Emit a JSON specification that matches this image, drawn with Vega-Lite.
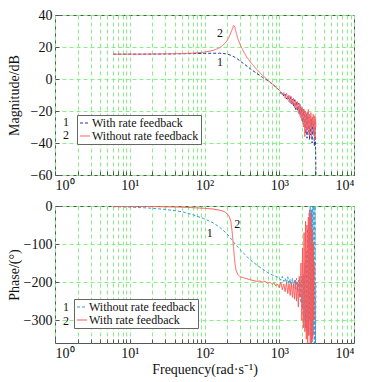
{
  "$schema": "https://vega.github.io/schema/vega-lite/v6.json",
  "padding": {"top": 7, "left": 6, "right": 0, "bottom": 0},
  "spacing": 5,
  "config": {
    "font": "Liberation Serif, Times New Roman, serif",
    "view": {"stroke": "#555555", "strokeWidth": 1},
    "axis": {
      "labelFont": "Liberation Serif, Times New Roman, serif", "titleFont": "Liberation Serif, Times New Roman, serif",
      "labelFontSize": 14, "titleFontSize": 14, "labelColor": "#111", "titleColor": "#111", "labelOverlap": false,
      "titleFontWeight": "normal", "domain": false, "gridColor": "#88ee88", "gridDash": [4, 3],
      "gridWidth": 1, "gridOpacity": 1, "tickColor": "#555", "tickSize": -4, "labelPadding": 7
    },
    "legend": {"labelFont": "Liberation Serif, Times New Roman, serif", "labelFontSize": 12, "labelColor": "#111"}
  },
  "datasets": {
    "mag": [
      {"series": "With rate feedback", "f": 6, "v": 15.5}, {"series": "With rate feedback", "f": 8, "v": 15.5}, {"series": "With rate feedback", "f": 10, "v": 15.5}, {"series": "With rate feedback", "f": 15, "v": 15.5}, {"series": "With rate feedback", "f": 20, "v": 15.6}, {"series": "With rate feedback", "f": 30, "v": 15.6}, {"series": "With rate feedback", "f": 50, "v": 15.8}, {"series": "With rate feedback", "f": 70, "v": 15.9}, {"series": "With rate feedback", "f": 100, "v": 16.0}, {"series": "With rate feedback", "f": 130, "v": 16.1}, {"series": "With rate feedback", "f": 160, "v": 16.1}, {"series": "With rate feedback", "f": 190, "v": 15.8}, {"series": "With rate feedback", "f": 220, "v": 15.0}, {"series": "With rate feedback", "f": 250, "v": 13.8}, {"series": "With rate feedback", "f": 280, "v": 12.3}, {"series": "With rate feedback", "f": 320, "v": 10.2}, {"series": "With rate feedback", "f": 370, "v": 8}, {"series": "With rate feedback", "f": 420, "v": 6}, {"series": "With rate feedback", "f": 500, "v": 3.5}, {"series": "With rate feedback", "f": 600, "v": 1.0}, {"series": "With rate feedback", "f": 700, "v": -1}, {"series": "With rate feedback", "f": 800, "v": -3}, {"series": "With rate feedback", "f": 900, "v": -5}, {"series": "With rate feedback", "f": 1000, "v": -7}, {"series": "With rate feedback", "f": 1050, "v": -9}, {"series": "With rate feedback", "f": 1100, "v": -8}, {"series": "With rate feedback", "f": 1150, "v": -11}, {"series": "With rate feedback", "f": 1200, "v": -9.5}, {"series": "With rate feedback", "f": 1250, "v": -12.5}, {"series": "With rate feedback", "f": 1300, "v": -10.5}, {"series": "With rate feedback", "f": 1350, "v": -14}, {"series": "With rate feedback", "f": 1400, "v": -11}, {"series": "With rate feedback", "f": 1450, "v": -15.5}, {"series": "With rate feedback", "f": 1500, "v": -12.5}, {"series": "With rate feedback", "f": 1550, "v": -17}, {"series": "With rate feedback", "f": 1600, "v": -13}, {"series": "With rate feedback", "f": 1650, "v": -19}, {"series": "With rate feedback", "f": 1700, "v": -14}, {"series": "With rate feedback", "f": 1750, "v": -20}, {"series": "With rate feedback", "f": 1800, "v": -15}, {"series": "With rate feedback", "f": 1850, "v": -22}, {"series": "With rate feedback", "f": 1900, "v": -16}, {"series": "With rate feedback", "f": 1950, "v": -24}, {"series": "With rate feedback", "f": 2000, "v": -18}, {"series": "With rate feedback", "f": 2050, "v": -27}, {"series": "With rate feedback", "f": 2100, "v": -19}, {"series": "With rate feedback", "f": 2150, "v": -30}, {"series": "With rate feedback", "f": 2200, "v": -20}, {"series": "With rate feedback", "f": 2250, "v": -34}, {"series": "With rate feedback", "f": 2300, "v": -22}, {"series": "With rate feedback", "f": 2350, "v": -37}, {"series": "With rate feedback", "f": 2400, "v": -21}, {"series": "With rate feedback", "f": 2450, "v": -33}, {"series": "With rate feedback", "f": 2500, "v": -24}, {"series": "With rate feedback", "f": 2550, "v": -38}, {"series": "With rate feedback", "f": 2600, "v": -23}, {"series": "With rate feedback", "f": 2650, "v": -35}, {"series": "With rate feedback", "f": 2700, "v": -25}, {"series": "With rate feedback", "f": 2750, "v": -40}, {"series": "With rate feedback", "f": 2800, "v": -24}, {"series": "With rate feedback", "f": 2850, "v": -34}, {"series": "With rate feedback", "f": 2900, "v": -27}, {"series": "With rate feedback", "f": 2950, "v": -42}, {"series": "With rate feedback", "f": 3000, "v": -26}, {"series": "With rate feedback", "f": 3050, "v": -36}, {"series": "With rate feedback", "f": 3100, "v": -60},
      {"series": "Without rate feedback", "f": 6, "v": 15.5}, {"series": "Without rate feedback", "f": 10, "v": 15.5}, {"series": "Without rate feedback", "f": 20, "v": 15.6}, {"series": "Without rate feedback", "f": 30, "v": 15.7}, {"series": "Without rate feedback", "f": 50, "v": 15.9}, {"series": "Without rate feedback", "f": 70, "v": 16.2}, {"series": "Without rate feedback", "f": 100, "v": 16.8}, {"series": "Without rate feedback", "f": 130, "v": 17.8}, {"series": "Without rate feedback", "f": 160, "v": 19.5}, {"series": "Without rate feedback", "f": 190, "v": 22.5}, {"series": "Without rate feedback", "f": 210, "v": 25.5}, {"series": "Without rate feedback", "f": 230, "v": 30}, {"series": "Without rate feedback", "f": 245, "v": 33.5}, {"series": "Without rate feedback", "f": 255, "v": 32.5}, {"series": "Without rate feedback", "f": 265, "v": 29}, {"series": "Without rate feedback", "f": 280, "v": 25}, {"series": "Without rate feedback", "f": 300, "v": 21.5}, {"series": "Without rate feedback", "f": 330, "v": 17.5}, {"series": "Without rate feedback", "f": 370, "v": 13.5}, {"series": "Without rate feedback", "f": 420, "v": 10}, {"series": "Without rate feedback", "f": 500, "v": 6}, {"series": "Without rate feedback", "f": 600, "v": 2.2}, {"series": "Without rate feedback", "f": 700, "v": -0.5}, {"series": "Without rate feedback", "f": 800, "v": -3}, {"series": "Without rate feedback", "f": 900, "v": -5}, {"series": "Without rate feedback", "f": 1000, "v": -7}, {"series": "Without rate feedback", "f": 1050, "v": -8}, {"series": "Without rate feedback", "f": 1100, "v": -10}, {"series": "Without rate feedback", "f": 1150, "v": -8.5}, {"series": "Without rate feedback", "f": 1200, "v": -12}, {"series": "Without rate feedback", "f": 1250, "v": -9}, {"series": "Without rate feedback", "f": 1300, "v": -13}, {"series": "Without rate feedback", "f": 1350, "v": -10}, {"series": "Without rate feedback", "f": 1400, "v": -15}, {"series": "Without rate feedback", "f": 1450, "v": -11}, {"series": "Without rate feedback", "f": 1500, "v": -16}, {"series": "Without rate feedback", "f": 1550, "v": -12}, {"series": "Without rate feedback", "f": 1600, "v": -18}, {"series": "Without rate feedback", "f": 1650, "v": -13}, {"series": "Without rate feedback", "f": 1700, "v": -19}, {"series": "Without rate feedback", "f": 1750, "v": -14}, {"series": "Without rate feedback", "f": 1800, "v": -21}, {"series": "Without rate feedback", "f": 1850, "v": -15}, {"series": "Without rate feedback", "f": 1900, "v": -23}, {"series": "Without rate feedback", "f": 1950, "v": -17}, {"series": "Without rate feedback", "f": 2000, "v": -26}, {"series": "Without rate feedback", "f": 2050, "v": -18}, {"series": "Without rate feedback", "f": 2100, "v": -30}, {"series": "Without rate feedback", "f": 2150, "v": -19}, {"series": "Without rate feedback", "f": 2200, "v": -36}, {"series": "Without rate feedback", "f": 2250, "v": -20}, {"series": "Without rate feedback", "f": 2300, "v": -33}, {"series": "Without rate feedback", "f": 2350, "v": -21}, {"series": "Without rate feedback", "f": 2400, "v": -31}, {"series": "Without rate feedback", "f": 2450, "v": -19}, {"series": "Without rate feedback", "f": 2500, "v": -35}, {"series": "Without rate feedback", "f": 2550, "v": -22}, {"series": "Without rate feedback", "f": 2600, "v": -30}, {"series": "Without rate feedback", "f": 2650, "v": -21}, {"series": "Without rate feedback", "f": 2700, "v": -36}, {"series": "Without rate feedback", "f": 2750, "v": -24}, {"series": "Without rate feedback", "f": 2800, "v": -30}, {"series": "Without rate feedback", "f": 2850, "v": -22}, {"series": "Without rate feedback", "f": 2900, "v": -34}, {"series": "Without rate feedback", "f": 2950, "v": -23}, {"series": "Without rate feedback", "f": 3000, "v": -38}, {"series": "Without rate feedback", "f": 3050, "v": -24}, {"series": "Without rate feedback", "f": 3100, "v": -30}
    ],
    "phase": [
      {"series": "Without rate feedback", "f": 6, "v": -2}, {"series": "Without rate feedback", "f": 10, "v": -3}, {"series": "Without rate feedback", "f": 15, "v": -4.5}, {"series": "Without rate feedback", "f": 20, "v": -6}, {"series": "Without rate feedback", "f": 30, "v": -9}, {"series": "Without rate feedback", "f": 50, "v": -15}, {"series": "Without rate feedback", "f": 70, "v": -23}, {"series": "Without rate feedback", "f": 100, "v": -34}, {"series": "Without rate feedback", "f": 130, "v": -44}, {"series": "Without rate feedback", "f": 160, "v": -56}, {"series": "Without rate feedback", "f": 200, "v": -73}, {"series": "Without rate feedback", "f": 230, "v": -88}, {"series": "Without rate feedback", "f": 260, "v": -101}, {"series": "Without rate feedback", "f": 300, "v": -115}, {"series": "Without rate feedback", "f": 350, "v": -128}, {"series": "Without rate feedback", "f": 400, "v": -140}, {"series": "Without rate feedback", "f": 500, "v": -155}, {"series": "Without rate feedback", "f": 600, "v": -166}, {"series": "Without rate feedback", "f": 700, "v": -175}, {"series": "Without rate feedback", "f": 800, "v": -181}, {"series": "Without rate feedback", "f": 900, "v": -185}, {"series": "Without rate feedback", "f": 1000, "v": -188}, {"series": "Without rate feedback", "f": 1050, "v": -195}, {"series": "Without rate feedback", "f": 1100, "v": -185}, {"series": "Without rate feedback", "f": 1150, "v": -198}, {"series": "Without rate feedback", "f": 1200, "v": -190}, {"series": "Without rate feedback", "f": 1250, "v": -202}, {"series": "Without rate feedback", "f": 1300, "v": -186}, {"series": "Without rate feedback", "f": 1350, "v": -205}, {"series": "Without rate feedback", "f": 1400, "v": -192}, {"series": "Without rate feedback", "f": 1450, "v": -210}, {"series": "Without rate feedback", "f": 1500, "v": -190}, {"series": "Without rate feedback", "f": 1550, "v": -215}, {"series": "Without rate feedback", "f": 1600, "v": -195}, {"series": "Without rate feedback", "f": 1650, "v": -220}, {"series": "Without rate feedback", "f": 1700, "v": -190}, {"series": "Without rate feedback", "f": 1750, "v": -225}, {"series": "Without rate feedback", "f": 1800, "v": -195}, {"series": "Without rate feedback", "f": 1850, "v": -240}, {"series": "Without rate feedback", "f": 1900, "v": -200}, {"series": "Without rate feedback", "f": 1950, "v": -255}, {"series": "Without rate feedback", "f": 2000, "v": -185}, {"series": "Without rate feedback", "f": 2050, "v": -270}, {"series": "Without rate feedback", "f": 2100, "v": -180}, {"series": "Without rate feedback", "f": 2150, "v": -300}, {"series": "Without rate feedback", "f": 2200, "v": -150}, {"series": "Without rate feedback", "f": 2250, "v": -320}, {"series": "Without rate feedback", "f": 2300, "v": -120}, {"series": "Without rate feedback", "f": 2350, "v": -330}, {"series": "Without rate feedback", "f": 2400, "v": -60}, {"series": "Without rate feedback", "f": 2450, "v": -340}, {"series": "Without rate feedback", "f": 2500, "v": -20}, {"series": "Without rate feedback", "f": 2550, "v": -300}, {"series": "Without rate feedback", "f": 2600, "v": 0}, {"series": "Without rate feedback", "f": 2650, "v": -350}, {"series": "Without rate feedback", "f": 2700, "v": -10}, {"series": "Without rate feedback", "f": 2750, "v": -360}, {"series": "Without rate feedback", "f": 2800, "v": 0}, {"series": "Without rate feedback", "f": 2850, "v": -340}, {"series": "Without rate feedback", "f": 2900, "v": 0}, {"series": "Without rate feedback", "f": 2950, "v": -360}, {"series": "Without rate feedback", "f": 3000, "v": 0}, {"series": "Without rate feedback", "f": 3050, "v": -360}, {"series": "Without rate feedback", "f": 3100, "v": -200},
      {"series": "With rate feedback", "f": 6, "v": -1}, {"series": "With rate feedback", "f": 10, "v": -1}, {"series": "With rate feedback", "f": 20, "v": -1.5}, {"series": "With rate feedback", "f": 50, "v": -3}, {"series": "With rate feedback", "f": 100, "v": -6}, {"series": "With rate feedback", "f": 130, "v": -8}, {"series": "With rate feedback", "f": 160, "v": -11}, {"series": "With rate feedback", "f": 185, "v": -15}, {"series": "With rate feedback", "f": 200, "v": -20}, {"series": "With rate feedback", "f": 215, "v": -28}, {"series": "With rate feedback", "f": 225, "v": -40}, {"series": "With rate feedback", "f": 235, "v": -70}, {"series": "With rate feedback", "f": 245, "v": -110}, {"series": "With rate feedback", "f": 255, "v": -150}, {"series": "With rate feedback", "f": 265, "v": -170}, {"series": "With rate feedback", "f": 280, "v": -180}, {"series": "With rate feedback", "f": 300, "v": -186}, {"series": "With rate feedback", "f": 350, "v": -190}, {"series": "With rate feedback", "f": 400, "v": -193}, {"series": "With rate feedback", "f": 450, "v": -196}, {"series": "With rate feedback", "f": 500, "v": -198}, {"series": "With rate feedback", "f": 550, "v": -197}, {"series": "With rate feedback", "f": 600, "v": -200}, {"series": "With rate feedback", "f": 650, "v": -198}, {"series": "With rate feedback", "f": 700, "v": -203}, {"series": "With rate feedback", "f": 750, "v": -200}, {"series": "With rate feedback", "f": 800, "v": -206}, {"series": "With rate feedback", "f": 850, "v": -202}, {"series": "With rate feedback", "f": 900, "v": -210}, {"series": "With rate feedback", "f": 950, "v": -205}, {"series": "With rate feedback", "f": 1000, "v": -215}, {"series": "With rate feedback", "f": 1050, "v": -200}, {"series": "With rate feedback", "f": 1100, "v": -220}, {"series": "With rate feedback", "f": 1150, "v": -205}, {"series": "With rate feedback", "f": 1200, "v": -225}, {"series": "With rate feedback", "f": 1250, "v": -200}, {"series": "With rate feedback", "f": 1300, "v": -230}, {"series": "With rate feedback", "f": 1350, "v": -205}, {"series": "With rate feedback", "f": 1400, "v": -235}, {"series": "With rate feedback", "f": 1450, "v": -200}, {"series": "With rate feedback", "f": 1500, "v": -240}, {"series": "With rate feedback", "f": 1550, "v": -205}, {"series": "With rate feedback", "f": 1600, "v": -245}, {"series": "With rate feedback", "f": 1650, "v": -195}, {"series": "With rate feedback", "f": 1700, "v": -250}, {"series": "With rate feedback", "f": 1750, "v": -200}, {"series": "With rate feedback", "f": 1800, "v": -265}, {"series": "With rate feedback", "f": 1850, "v": -185}, {"series": "With rate feedback", "f": 1900, "v": -240}, {"series": "With rate feedback", "f": 1950, "v": -150}, {"series": "With rate feedback", "f": 2000, "v": -300}, {"series": "With rate feedback", "f": 2050, "v": -110}, {"series": "With rate feedback", "f": 2100, "v": -320}, {"series": "With rate feedback", "f": 2150, "v": -70}, {"series": "With rate feedback", "f": 2200, "v": -330}, {"series": "With rate feedback", "f": 2250, "v": -40}, {"series": "With rate feedback", "f": 2300, "v": -350}, {"series": "With rate feedback", "f": 2350, "v": -50}, {"series": "With rate feedback", "f": 2400, "v": -360}, {"series": "With rate feedback", "f": 2450, "v": -30}, {"series": "With rate feedback", "f": 2500, "v": -340}, {"series": "With rate feedback", "f": 2550, "v": -10}, {"series": "With rate feedback", "f": 2600, "v": -360}, {"series": "With rate feedback", "f": 2650, "v": -20}, {"series": "With rate feedback", "f": 2700, "v": -360}, {"series": "With rate feedback", "f": 2750, "v": -60}, {"series": "With rate feedback", "f": 2800, "v": -350}, {"series": "With rate feedback", "f": 2850, "v": -100}, {"series": "With rate feedback", "f": 2900, "v": -300}, {"series": "With rate feedback", "f": 2950, "v": -150}
    ],
    "magLabels": [
      {"f": 161, "v": 28.7, "label": "2"}, {"f": 161, "v": 10.6, "label": "1"},
      {"f": 1.4, "v": -26.8, "label": "1"}, {"f": 1.4, "v": -35, "label": "2"}
    ],
    "phaseLabels": [
      {"f": 118, "v": -71, "label": "1"}, {"f": 274, "v": -48, "label": "2"},
      {"f": 1.4, "v": -266, "label": "1"}, {"f": 1.4, "v": -301, "label": "2"}
    ]
  },
  "vconcat": [
    {
      "width": 299, "height": 160,
      "layer": [
        {
          "data": {"name": "mag"},
          "mark": {"type": "line", "strokeWidth": 1, "clip": true},
          "encoding": {
            "x": {"field": "f", "type": "quantitative", "scale": {"type": "log", "domain": [1, 10000]},
              "axis": {"title": null, "grid": true, "labelOverlap": false, "tickCount": 50, "values": [1,2,3,4,5,6,7,8,9,10,20,30,40,50,60,70,80,90,100,200,300,400,500,600,700,800,900,1000,2000,3000,4000,5000,6000,7000,8000,9000,10000],
                "labelExpr": "datum.value == 1 ? '10⁰' : datum.value == 10 ? '10¹' : datum.value == 100 ? '10²' : datum.value == 1000 ? '10³' : datum.value == 10000 ? '10⁴' : ''"}},
            "y": {"field": "v", "type": "quantitative", "scale": {"domain": [-60, 40], "nice": false},
              "axis": {"title": "Magnitude/dB", "labelOverlap": false, "tickCount": 10, "values": [-60,-40,-20,0,20,40], "minExtent": 30, "maxExtent": 30, "titlePadding": 4}},
            "color": {"field": "series", "type": "nominal",
              "scale": {"domain": ["With rate feedback", "Without rate feedback"], "range": ["#2a35a8", "#ff6666"]},
              "legend": {"title": null, "orient": "none", "legendX": 22, "legendY": 100, "symbolType": "stroke", "symbolSize": 100, "symbolStrokeWidth": 1.2, "strokeColor": "#666", "padding": 2, "rowPadding": 1, "labelOffset": 1, "fillColor": "white"}},
            "strokeDash": {"field": "series", "type": "nominal",
              "scale": {"domain": ["With rate feedback", "Without rate feedback"], "range": [[3, 2], [1, 0]]},
              "legend": {"title": null, "orient": "none", "legendX": 22, "legendY": 100, "symbolType": "stroke", "symbolSize": 100, "symbolStrokeWidth": 1.2, "strokeColor": "#666", "padding": 2, "rowPadding": 1, "labelOffset": 1, "fillColor": "white"}}
          }
        },
        {
          "data": {"name": "magLabels"},
          "mark": {"type": "text", "fontSize": 12, "font": "Liberation Serif, Times New Roman, serif", "color": "#111"},
          "encoding": {
            "x": {"field": "f", "type": "quantitative"},
            "y": {"field": "v", "type": "quantitative"},
            "text": {"field": "label"}
          }
        }
      ]
    },
    {
      "width": 299, "height": 137,
      "layer": [
        {
          "data": {"name": "phase"},
          "mark": {"type": "line", "strokeWidth": 1, "clip": true},
          "encoding": {
            "x": {"field": "f", "type": "quantitative", "scale": {"type": "log", "domain": [1, 10000]},
              "axis": {"title": "Frequency(rad·s⁻¹)", "grid": true, "labelOverlap": false, "tickCount": 50, "values": [1,2,3,4,5,6,7,8,9,10,20,30,40,50,60,70,80,90,100,200,300,400,500,600,700,800,900,1000,2000,3000,4000,5000,6000,7000,8000,9000,10000],
                "labelExpr": "datum.value == 1 ? '10⁰' : datum.value == 10 ? '10¹' : datum.value == 100 ? '10²' : datum.value == 1000 ? '10³' : datum.value == 10000 ? '10⁴' : ''", "titlePadding": 2}},
            "y": {"field": "v", "type": "quantitative", "scale": {"domain": [-360, 0], "nice": false},
              "axis": {"title": "Phase/(°)", "labelOverlap": false, "tickCount": 10, "values": [-300,-200,-100,0], "minExtent": 30, "maxExtent": 30, "titlePadding": 4}},
            "color": {"field": "series", "type": "nominal",
              "scale": {"domain": ["Without rate feedback", "With rate feedback"], "range": ["#3a9ad9", "#ff5555"]},
              "legend": {"title": null, "orient": "none", "legendX": 19, "legendY": 93, "symbolType": "stroke", "symbolSize": 100, "symbolStrokeWidth": 1.2, "strokeColor": "#666", "padding": 2, "rowPadding": 1, "labelOffset": 1, "fillColor": "white"}},
            "strokeDash": {"field": "series", "type": "nominal",
              "scale": {"domain": ["Without rate feedback", "With rate feedback"], "range": [[3, 2], [1, 0]]},
              "legend": {"title": null, "orient": "none", "legendX": 19, "legendY": 93, "symbolType": "stroke", "symbolSize": 100, "symbolStrokeWidth": 1.2, "strokeColor": "#666", "padding": 2, "rowPadding": 1, "labelOffset": 1, "fillColor": "white"}}
          }
        },
        {
          "data": {"name": "phaseLabels"},
          "mark": {"type": "text", "fontSize": 12, "font": "Liberation Serif, Times New Roman, serif", "color": "#111"},
          "encoding": {
            "x": {"field": "f", "type": "quantitative"},
            "y": {"field": "v", "type": "quantitative"},
            "text": {"field": "label"}
          }
        }
      ]
    }
  ],
  "resolve": {"scale": {"color": "independent", "strokeDash": "independent", "y": "independent"}, "legend": {"color": "independent", "strokeDash": "independent"}}
}
